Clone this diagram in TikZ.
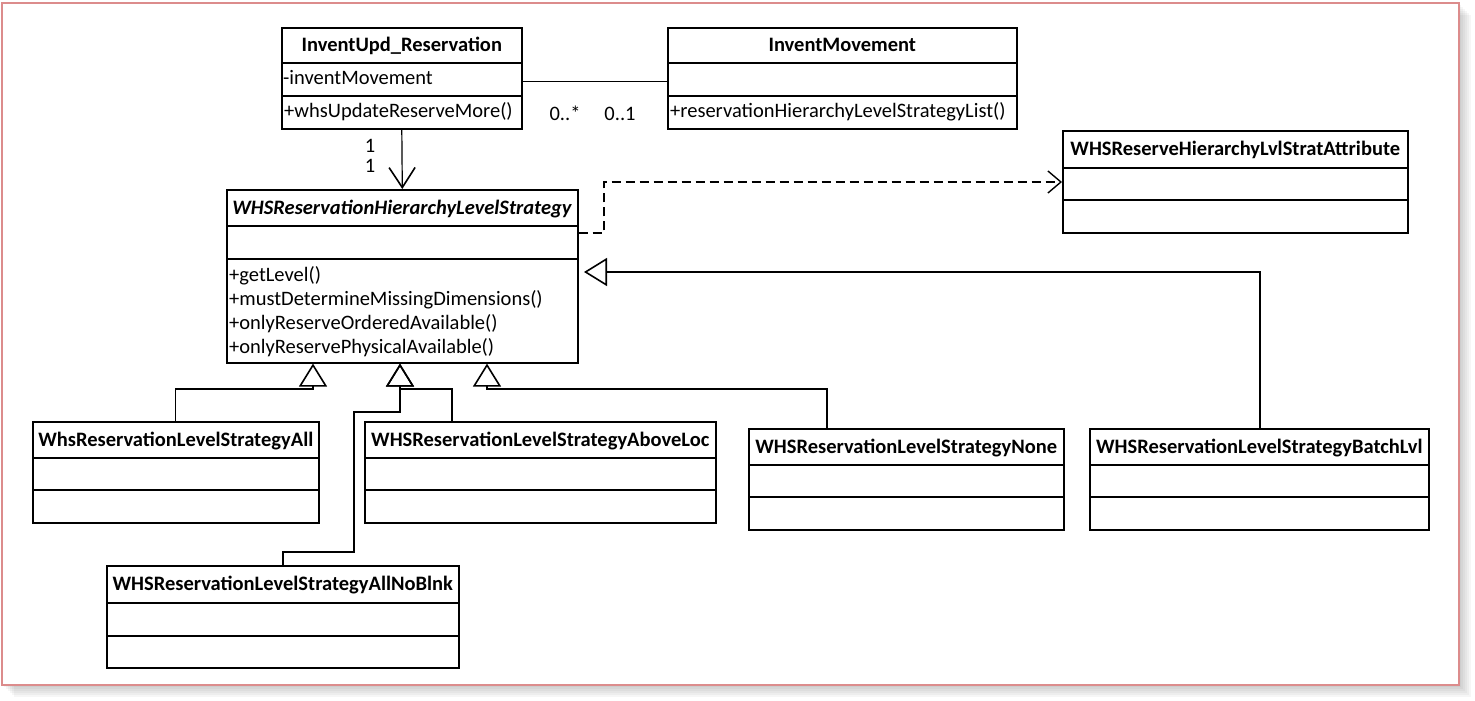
\documentclass[tikz,border=0pt]{standalone}
\usepackage{fontspec}
\setmainfont{Carlito}
\usetikzlibrary{arrows.meta}

\definecolor{framered}{RGB}{220,140,140}

\newcommand{\umlfont}{\fontsize{20.5}{24}\selectfont}

\tikzset{
  classbox/.style={draw, line width=1.6pt, anchor=north west, inner sep=0pt},
  classline/.style={line width=1.6pt},
  classtitle/.style={font=\umlfont\bfseries, inner sep=0pt, text height=0.64em, text depth=0pt, yshift=-3.5pt},
  member/.style={anchor=west, inner sep=0pt, text height=0.64em, text depth=0pt, yshift=-3.5pt},
  mult/.style={inner sep=0pt, text height=0.64em, text depth=0pt, yshift=-3pt},
  assoc/.style={line width=1.2pt},
  navarrow/.style={line width=1.2pt, -{Straight Barb[length=20pt, width=26pt, line width=1.6pt]}},
  depend/.style={line width=1.4pt, dash pattern=on 9pt off 5pt, -{Straight Barb[length=13pt, width=22pt, line width=1.4pt]}},
  inherit/.style={line width=1.2pt, -{Triangle[open, length=23pt, width=28pt, line width=1.6pt]}},
}

% #1 name, #2 left, #3 top, #4 width, #5 title row, #6 attribute row, #7 operation row, #8 title
\newcommand{\umlclass}[8]{%
  \pgfmathsetmacro{\clsh}{#5+#6+#7}%
  \pgfmathsetmacro{\clsa}{#5+#6}%
  \node[classbox, minimum width=#4pt, minimum height=\clsh pt] (#1) at (#2,#3) {};
  \node[classtitle] (#1-title) at ([yshift=-#5pt/2]#1.north) {#8};
  \draw[classline] ([yshift=-#5pt]#1.north west) -- ([yshift=-#5pt]#1.north east);
  \draw[classline] ([yshift=-\clsa pt]#1.north west) -- ([yshift=-\clsa pt]#1.north east);
}

\begin{document}
\begin{tikzpicture}[x=1pt, y=-1pt, font=\umlfont]
  \useasboundingbox (0,0) rectangle (1475,701);
  % frame and its shadow
  \foreach \s in {2,4,...,12}
    \fill[black, opacity=0.035] ({2+\s},{3+\s}) rectangle ({1459+\s},{685+\s});
  \draw[framered, line width=1.8pt, fill=white] (2,3) rectangle (1459,685);

  % classes
  \umlclass{invupd}{281}{27}{240}{36}{33}{32}{InventUpd\_Reservation}
  \umlclass{invmove}{667}{27}{349}{36}{33}{32}{InventMovement}
  \umlclass{strat}{226}{189}{351}{37}{33}{103}{\textit{WHSReservationHierarchyLevelStrategy}}
  \umlclass{attrcls}{1062}{130}{345}{38}{32}{32}{WHSReserveHierarchyLvlStratAttribute}
  \umlclass{allcls}{32}{421}{286}{37}{32}{32}{WhsReservationLevelStrategyAll}
  \umlclass{aboveloc}{364}{421}{351}{37}{32}{32}{WHSReservationLevelStrategyAboveLoc}
  \umlclass{nonecls}{748}{428}{315}{37}{32}{32}{WHSReservationLevelStrategyNone}
  \umlclass{batchcls}{1089}{428}{339}{37}{32}{32}{WHSReservationLevelStrategyBatchLvl}
  \umlclass{allnoblnk}{106}{565}{352}{38}{33}{31}{WHSReservationLevelStrategyAllNoBlnk}

  % members
  \node[member] (invupd-attr) at (283,78) {-inventMovement};
  \node[member] (invupd-op) at (284,111) {+whsUpdateReserveMore()};
  \node[member] (invmove-op) at (670,111) {+reservationHierarchyLevelStrategyList()};
  \foreach \m [count=\i] in {getLevel, mustDetermineMissingDimensions,
      onlyReserveOrderedAvailable, onlyReservePhysicalAvailable}
    \node[member] (strat-op\i) at (229,{251+24*\i}) {+\m()};

  % associations
  \draw[assoc] (invupd.east |- invupd-attr.west) -- (invmove.west |- invupd-attr.west);
  \node[mult] (mult-many) at (565,114) {0..*};
  \node[mult] (mult-opt) at (620,114) {0..1};
  \draw[navarrow] (invupd.south) -- (strat.north);
  \node[mult] (mult-src) at (370,146) {1};
  \node[mult] (mult-dst) at (370,166) {1};

  % dependency
  \draw[depend] (strat.east |- 0,233) -| (604,182) -- (attrcls.west |- 0,182);

  % generalizations
  \coordinate (batchtip) at (584,272);
  \draw[inherit] (allcls.north) |- (313,389) -- (strat.south -| 313,0);
  \draw[inherit] (aboveloc.north -| 452,0) |- (400,389) -- (strat.south -| 400,0);
  \draw[inherit] (allnoblnk.north -| 283,0) |- (354,552) |- (400,412) -- (strat.south -| 400,0);
  \draw[inherit] (nonecls.north -| 827,0) |- (487,389) -- (strat.south -| 487,0);
  \draw[inherit] (batchcls.north -| 1260,0) |- (batchtip);
\end{tikzpicture}
\end{document}
